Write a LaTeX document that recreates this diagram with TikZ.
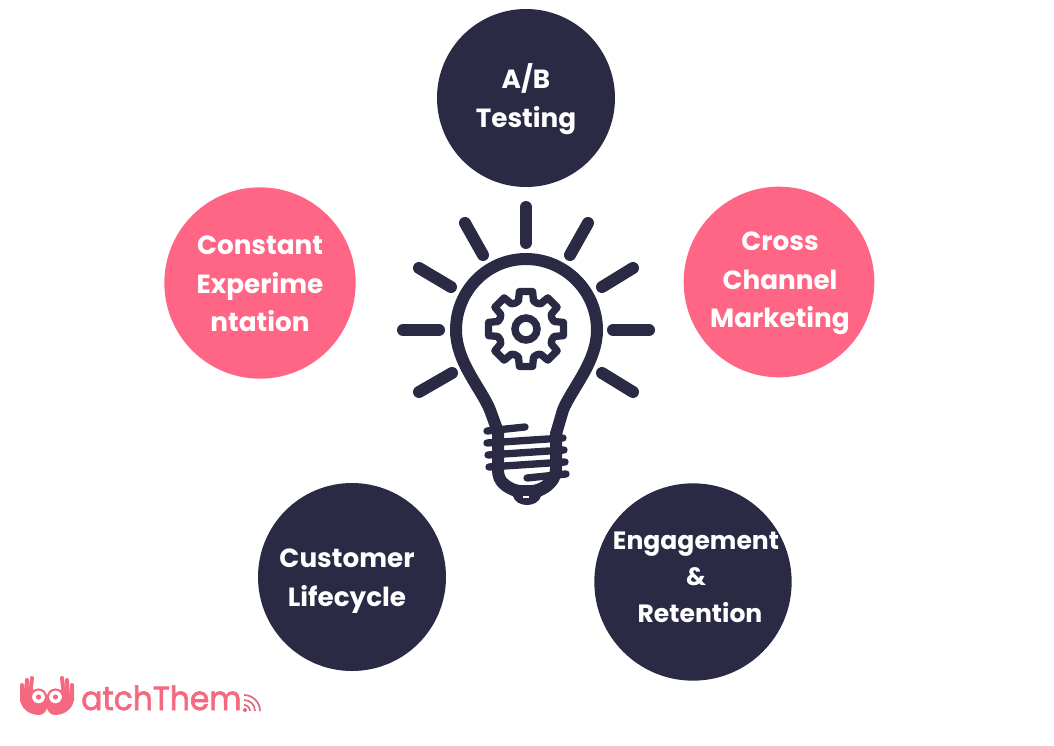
\documentclass[tikz,border=0pt]{standalone}
\usepackage{fontspec}
\setmainfont{Poppins}
\newfontfamily\logofont[FakeBold=2]{Poppins}
\definecolor{navy}{HTML}{2A2A45}
\definecolor{rosy}{HTML}{FF6584}
\definecolor{logopink}{HTML}{F4697F}
\tikzset{
  navydisc/.style={circle,fill=navy,inner sep=0pt},
  rosydisc/.style={circle,fill=rosy,inner sep=0pt},
  disclabel/.style={text=white,align=center,font=\bfseries\fontsize{19.7}{29}\selectfont,inner sep=0pt},
  ray/.style={line width=9pt,navy,line cap=round},
  bulb/.style={line width=9pt,navy,line cap=round,line join=round},
  thread/.style={line width=5.5pt,navy,line cap=round}
}
\begin{document}
\begin{tikzpicture}[x=0.75pt,y=-0.75pt]
\useasboundingbox (0,0) rectangle (1054,746);
% discs
\node[navydisc,minimum size=133.5pt] (abtest) at (526,98) {};
\node[rosydisc,minimum size=143pt] (cross) at (779,282) {};
\node[rosydisc,minimum size=143.5pt] (constant) at (260,283) {};
\node[navydisc,minimum size=141pt] (customer) at (352,577) {};
\node[navydisc,minimum size=148pt] (engage) at (693,582) {};
\node[disclabel] (abtesttext) at (526,99) {A/B\\Testing};
\node[disclabel] (crosstext) at (780,283.5) {Cross\\Channel\\Marketing};
\node[disclabel] (constanttext) at (260,284) {Constant\\Experime\\ntation};
\node[disclabel] (customertext) at (347,581) {Customer\\Lifecycle};
\node[disclabel,font=\bfseries\fontsize{18.8}{27.5}\selectfont] (engagetext) at (696,577) {Engagement\\\&\\\hspace{6pt}Retention};
% rays
\foreach \a/\b/\c/\d in {526/207/526/243,465/223/483/255,588/223/570/255,419/268/451/287,633/268/602/287,403/330/439/330,649/330/613/330,419/392/452/373,633/392/602/373}
  \draw[ray] (\a,\b)--(\c,\d);
% bulb
\draw[bulb] (498,432)--(490,410) .. controls (481,388) and (456,362) .. (456,330)
  .. controls (456,291) and (487,259) .. (526,259)
  .. controls (565,259) and (597,291) .. (597,330)
  .. controls (597,362) and (572,388) .. (563,410)--(556,434);
\draw[bulb] (498,430)--(498,470) .. controls (498,482) and (506,487) .. (516,491);
\draw[bulb] (556,434)--(556,468) .. controls (556,480) and (548,487) .. (538,491);
\fill[navy] (509,485) -- (513,496) .. controls (516,508) and (538,508) .. (541,496) -- (546,485) -- cycle;
\draw[bulb,line width=7pt] (505,483) .. controls (515,493) and (540,493) .. (549,481);
\foreach \a/\b/\c/\d in {487/431/525/427,487/443/563/438,488/455/564/450,489/467/565/462,527/478/566/474}
  \draw[thread] (\a,\b)--(\c,\d);
\draw[white,line width=1.2pt] (523,497)--(529,497);
% gear
\draw[navy,line width=5.6pt] (526,329) circle (11);
\foreach \t in {0,45,...,315}
  \draw[navy,line width=5.5pt,line join=round,line cap=round,shift={(526,329)}]
    (\t-22.5:28)--(\t-15:29)--(\t-10:38)--(\t+10:38)--(\t+15:29)--(\t+22.5:28);
% logo
\foreach \m in {1,-1}{
  \begin{scope}[shift={(47,0)},xscale=\m]
  \fill[logopink] (-27,698) .. controls (-27,708) and (-18,715) .. (-8,715)
    .. controls (-4,715) and (-1,712) .. (0,708) -- (0,695) -- (-18,688) -- cycle;
  \draw[logopink,line width=3pt,line cap=round] (-25,700)--(-25,685)
    (-21,697)--(-20,680) (-17,695)--(-15,678);
  \draw[logopink,line width=1.6pt,fill=white] (-8.5,697) circle (7.5);
  \fill[logopink] (-8.5,697) circle (2.6);
  \end{scope}
}
\node[text=logopink,font=\logofont\fontsize{25}{25}\selectfont,anchor=base west,inner sep=0pt,xscale=0.94,transform shape] (logotext) at (81,710) {atchThem};
\fill[logopink!80!gray] (245,710) circle (2);
\foreach \r in {6,11,16}
  \draw[logopink!80!gray,line width=1.3pt] (244,711)++(0:\r) arc[start angle=0,end angle=-90,radius=\r];
\end{tikzpicture}
\end{document}
